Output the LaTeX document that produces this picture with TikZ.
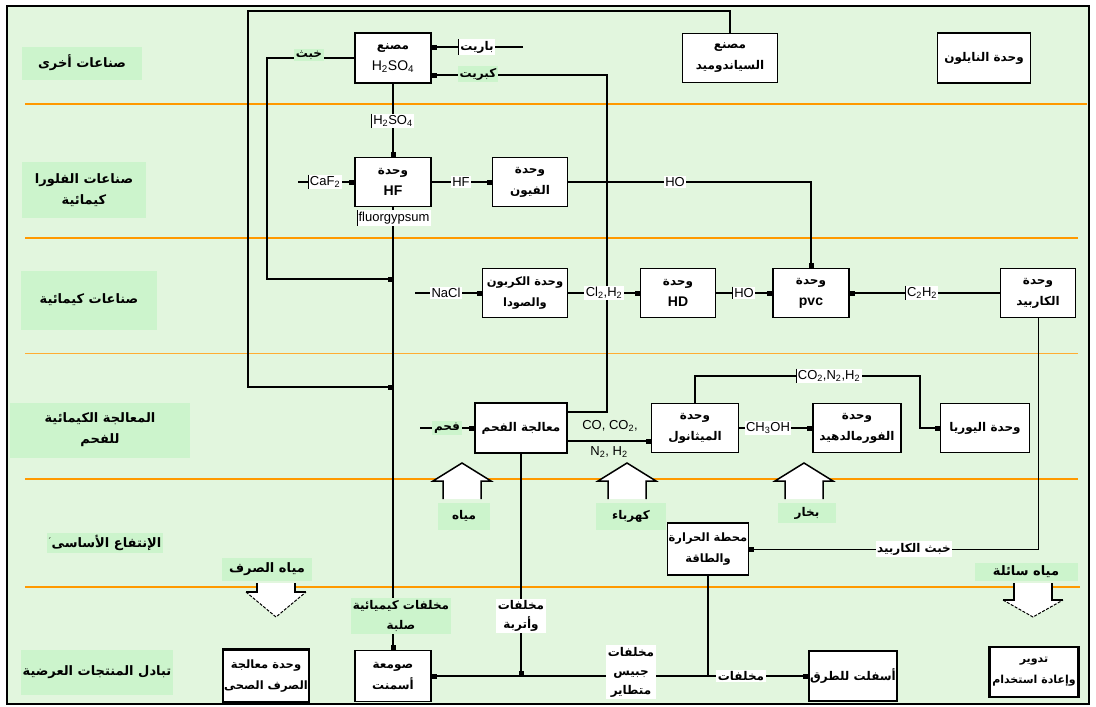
\documentclass[tikz,border=0pt]{standalone}
\usepackage{fontspec}
\setmainfont{Liberation Sans}
\newfontfamily\arfont[Script=Arabic]{DejaVu Sans}
\TeXXeTstate=1
\usetikzlibrary{arrows.meta}
\newcommand\AR[1]{{\arfont\bfseries\beginR #1\endR}}
\newcommand\LT[1]{{\fontsize{14}{20}\selectfont #1}}
\definecolor{bgc}{RGB}{226,246,222}
\definecolor{lblg}{RGB}{204,244,204}
\definecolor{orng}{RGB}{255,153,0}
\begin{document}
\begin{tikzpicture}[x=1pt,y=-1pt,
  >={Square[length=5pt,width=5pt]},
  bx/.style 2 args={draw, line width=1.6pt, fill=white, align=center, inner sep=1pt,
     minimum width=#1, minimum height=#2, font=\fontsize{12}{21}\selectfont},
  rl/.style={fill=lblg, align=center, inner sep=2pt, font=\fontsize{13}{21}\selectfont},
  wl/.style={fill=white, inner sep=1.5pt, font=\fontsize{13}{15}\selectfont},
  gl/.style={fill=lblg, inner sep=2pt, font=\fontsize{12}{20}\selectfont},
  cn/.style={line width=1.6pt},
  tick/.style={line width=0.6pt},
  orl/.style={draw=orng, line width=1.6pt}]
\useasboundingbox (0,0) rectangle (1096,707);
\fill[white] (0,0) rectangle (1096,707);
\fill[bgc] (7,6) rectangle (1089,704);
% orange lines
\draw[orl] (25,104) -- (1087,104);
\draw[orl] (25,238) -- (1078,238);
\draw[orl, line width=1pt, draw=orng!80] (25,353) -- (1078,353);
\draw[orl] (25,479) -- (1078,479);
\draw[orl] (25,587) -- (1080,587);
% row labels
\node[rl, minimum width=120pt, minimum height=33pt] (r1) at (82,63) {\AR{صناعات أخرى}};
\node[rl, minimum width=124pt, minimum height=56pt] (r2) at (84,190) {\AR{صناعات الفلورا}\\\AR{كيمائية}};
\node[rl, minimum width=136pt, minimum height=59pt] (r3) at (89,300) {\AR{صناعات كيمائية}};
\node[rl, minimum width=180pt, minimum height=55pt] (r4) at (100,430) {\AR{المعالجة الكيمائية}\\\AR{للفحم}};
\node[rl, minimum width=110pt, minimum height=20pt] (r5) at (105,543) {\raisebox{3pt}{\fontsize{9}{9}\selectfont ´}\AR{الإنتفاع الأساسى}};
\node[rl, minimum width=145pt, minimum height=45pt] (r6) at (97,672) {\AR{تبادل المنتجات العرضية}};
% boxes
\node[bx={76pt}{50pt}] (h2so4) at (393,58) {\AR{مصنع}\\\LT{H\textsubscript{2}SO\textsubscript{4}}};
\node[bx={95pt}{49pt}] (cyan) at (730,58) {\AR{مصنع}\\\AR{السياندوميد}};
\node[bx={93pt}{50pt}] (nylon) at (984,58) {\AR{وحدة النايلون}};
\node[bx={76pt}{49pt}] (hf) at (393,182) {\AR{وحدة}\\\LT{\textbf{HF}}};
\node[bx={75pt}{49pt}] (freon) at (530,182) {\AR{وحدة}\\\AR{الفيون}};
\node[bx={85pt}{49pt}, font=\fontsize{11.5}{21}\selectfont] (soda) at (525,293) {\AR{وحدة الكربون}\\\AR{والصودا}};
\node[bx={75pt}{49pt}] (hd) at (678,293) {\AR{وحدة}\\\LT{\textbf{HD}}};
\node[bx={76pt}{49pt}] (pvc) at (811,293) {\AR{وحدة}\\\LT{\textbf{pvc}}};
\node[bx={75pt}{49pt}] (carb) at (1038,293) {\AR{وحدة}\\\AR{الكاربيد}};
\node[bx={92pt}{50pt}] (coal) at (521,428) {\AR{معالجة الفحم}};
\node[bx={87pt}{49pt}] (meth) at (695,428) {\AR{وحدة}\\\AR{الميثانول}};
\node[bx={88pt}{49pt}] (form) at (857,428) {\AR{وحدة}\\\AR{الفورمالدهيد}};
\node[bx={89pt}{49pt}] (urea) at (985,428) {\AR{وحدة اليوريا}};
\node[bx={73pt}{52pt}, font=\fontsize{11.5}{21}\selectfont] (power) at (708,549) {\AR{محطة الحرارة}\\\AR{والطاقة}};
\node[bx={79pt}{53pt}, line width=2.4pt, font=\fontsize{11.5}{21}\selectfont] (sew) at (266,676) {\AR{وحدة معالجة}\\\AR{الصرف الصحى}};
\node[bx={76pt}{51pt}] (cem) at (393,676) {\AR{صومعة}\\\AR{أسمنت}};
\node[bx={85pt}{50pt}] (asph) at (853,676) {\AR{أسفلت للطرق}};
\node[bx={89pt}{50pt}, line width=2.4pt, font=\fontsize{11}{21}\selectfont] (recy) at (1034,672) {\AR{تدوير}\\\AR{وإعادة استخدام}};
% coordinates
\coordinate (j1) at (393,387);
\coordinate (j2) at (393,279);
\coordinate (nacl) at (415,293);
\coordinate (coalin) at (420,428);
\coordinate (bar) at (523,47);
\coordinate (caf) at (298,182);
\coordinate (j3) at (708,676);
\coordinate (j4) at (521,676);
% connectors
\draw[cn,->] (cyan.north) |- (248,11) |- (j1);
\draw[cn,->] (h2so4.west) -| (267,279) -- (j2);
\draw[cn,->] (h2so4) -- (hf);
\draw[cn,->] (hf) -- (cem);
\draw[cn,->] (nacl) -- (soda);
\draw[cn,->] (soda) -- (hd);
\draw[cn,->] (hd) -- (pvc);
\draw[cn,->] (carb) -- (pvc);
\draw[cn,->] (freon.east) -| (pvc.north);
\draw[line width=0.9pt,->] (carb.south) |- (power.east);
\draw[cn,->] (coalin) -- (coal);
\draw[cn,->] ([yshift=-13pt]coal.east) -- ([yshift=-13pt]meth.west);
\draw[cn,->] ([yshift=16pt]coal.east) -| (607,75) -- ([yshift=-17pt]h2so4.east);
\draw[cn,->] (bar) -- ([yshift=11pt]h2so4.east);
\draw[cn,->] (caf) -- (hf);
\draw[cn,->] (hf) -- (freon);
\draw[cn,->] (meth.north) |- (920,376) |- (urea.west);
\draw[cn,->] (meth) -- (form);
\draw[cn,->] (power.south) -- (j3) -- (cem.east);
\draw[cn,->] (j3) -- (asph.west);
\draw[cn,->] (coal.south) -- (j4);
% block arrows up
\foreach \c in {462,627,804}{
  \fill[white] (\c,463) -- ({\c+29},481) -- ({\c+19},481) -- ({\c+19},499) -- ({\c-19},499) -- ({\c-19},481) -- ({\c-29},481) -- cycle;
  \draw[line width=1.5pt, line join=miter] ({\c+19},499) -- ({\c+19},481) -- ({\c+29},481) -- (\c,463) -- ({\c-29},481) -- ({\c-19},481) -- ({\c-19},499);
}
% block arrows down
\foreach \c/\b in {276/592,1033/600}{
  \fill[white] ({\c-19},583) -- ({\c-19},\b) -- ({\c-30},\b) -- (\c,617) -- ({\c+30},\b) -- ({\c+19},\b) -- ({\c+19},583) -- cycle;
  \draw[line width=1.5pt] ({\c-19},583) -- ({\c-19},\b) -- ({\c-30},\b);
  \draw[line width=1.5pt] ({\c+19},583) -- ({\c+19},\b) -- ({\c+30},\b);
  \draw[line width=1pt, dash pattern=on 3pt off 1.5pt] ({\c-30},\b) -- (\c,617) -- ({\c+30},\b);
}
% labels
\node[wl] (lh2) at (393,121) {H\textsubscript{2}SO\textsubscript{4}};
\draw[tick] (lh2.north west) -- (lh2.south west);
\node[wl] (lfl) at (394,218) {fluorgypsum};
\draw[tick] (lfl.north west) -- (lfl.south west);
\node[gl] (lkh) at (309,55) {\AR{خبث}};
\node[wl, font=\fontsize{12}{15}\selectfont] (lbar) at (477,47) {\AR{باريت}};
\draw[tick] (lbar.north west) -- (lbar.south west);
\node[gl] (lkb) at (478,74) {\AR{كبريت}};
\node[wl] (lcaf) at (325,182) {CaF\textsubscript{2}};
\draw[tick] (lcaf.north west) -- (lcaf.south west);
\node[wl] (lhf) at (461,182) {HF};
\node[wl] (lho1) at (675,182) {HO};
\node[wl] (lna) at (446,293) {NaCl};
\node[wl] (lcl) at (604,293) {Cl\textsubscript{2},H\textsubscript{2}};
\node[wl] (lho2) at (744,293) {HO};
\draw[tick] (lho2.north west) -- (lho2.south west);
\node[wl] (lc2) at (922,293) {C\textsubscript{2}H\textsubscript{2}};
\draw[tick] (lc2.north west) -- (lc2.south west);
\node[gl] (lfh) at (447,428) {\AR{فحم}};
\node[font=\fontsize{13}{14}\selectfont, inner sep=0pt] (lco1) at (610,426) {CO, CO\textsubscript{2},};
\node[font=\fontsize{13}{14}\selectfont, inner sep=0pt] (lco2) at (609,452) {N\textsubscript{2}, H\textsubscript{2}};
\node[wl] (lco3) at (829,376) {CO\textsubscript{2},N\textsubscript{2},H\textsubscript{2}};
\draw[tick] (lco3.north west) -- (lco3.south west);
\node[wl] (lch) at (768,428) {CH\textsubscript{3}OH};
\node[wl, font=\fontsize{12}{15}\selectfont] (lkc) at (914,549) {\AR{خبث الكاربيد}};
\node[gl, align=center] (lsolid) at (401,616) {\AR{مخلفات كيميائية}\\\AR{صلبة}};
\node[wl, align=center, font=\fontsize{12}{19}\selectfont] (ldust) at (521,616) {\AR{مخلفات}\\\AR{وأتربة}};
\node[wl, align=center, font=\fontsize{12}{19}\selectfont] (lgyp) at (631,672) {\AR{مخلفات}\\\AR{جبيس}\\\AR{متطاير}};
\node[wl, font=\fontsize{12}{15}\selectfont] (lwst) at (741,676) {\AR{مخلفات}};
\node[gl, minimum width=52pt, minimum height=27pt] (lw) at (464,516) {\AR{مياه}};
\node[gl, minimum width=70pt, minimum height=27pt] (le) at (631,516) {\AR{كهرباء}};
\node[gl, minimum width=58pt, minimum height=20pt] (ls) at (807,513) {\AR{بخار}};
\node[gl, minimum width=90pt, minimum height=23pt, font=\fontsize{13}{20}\selectfont] (lsw) at (267,569) {\AR{مياه الصرف}};
\node[gl, minimum width=103pt, minimum height=18pt, font=\fontsize{13}{20}\selectfont] (llw) at (1026,572) {\AR{مياه سائلة}};
% frame
\draw[line width=2.4pt] (7,6) rectangle (1089,704);
\end{tikzpicture}
\end{document}
